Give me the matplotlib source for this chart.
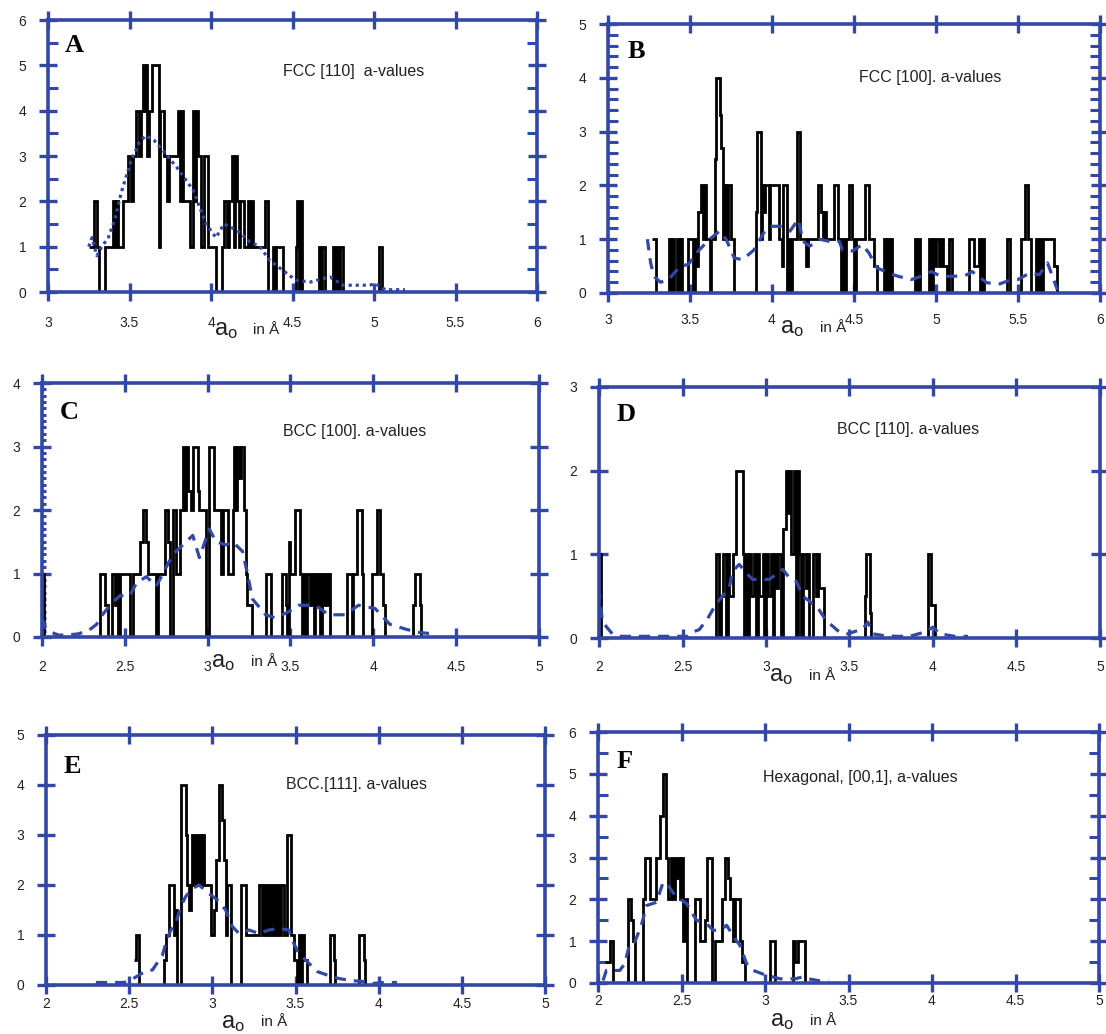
import matplotlib
matplotlib.use("Agg")
import matplotlib.pyplot as plt
from matplotlib.ticker import MultipleLocator
import numpy as np

plt.rcParams['font.family'] = ['Liberation Sans', 'DejaVu Sans']

# ---- data: step traces (segment start, count) + end of last segment ----
A_steps = [(3.25, 1), (3.28, 2), (3.30, 1), (3.31, 0), (3.35, 1), (3.40, 2), (3.41, 1), (3.42, 2),
           (3.43, 1), (3.46, 2), (3.49, 3), (3.51, 2), (3.52, 3), (3.54, 4), (3.56, 3), (3.57, 4),
           (3.58, 5), (3.59, 4), (3.60, 5), (3.61, 3), (3.62, 4), (3.64, 5), (3.68, 1), (3.69, 4),
           (3.71, 3), (3.73, 2), (3.74, 3), (3.80, 4), (3.81, 2), (3.82, 4), (3.83, 2), (3.87, 1),
           (3.89, 4), (3.90, 2), (3.91, 4), (3.92, 3), (3.94, 1), (3.96, 3), (3.98, 1), (4.03, 0),
           (4.07, 1), (4.08, 2), (4.10, 1), (4.11, 2), (4.13, 3), (4.14, 1), (4.15, 3), (4.16, 2),
           (4.17, 1), (4.18, 2), (4.20, 1), (4.23, 2), (4.24, 1), (4.25, 2), (4.26, 1), (4.33, 2),
           (4.35, 0), (4.38, 1), (4.39, 0), (4.40, 1), (4.44, 0), (4.52, 1), (4.53, 2), (4.54, 0),
           (4.55, 2), (4.56, 0), (4.66, 1), (4.67, 0), (4.68, 1), (4.70, 0), (4.75, 1), (4.76, 0),
           (4.77, 1), (4.78, 0), (4.79, 1), (4.81, 0), (5.03, 1), (5.05, 0)]
A_end = 5.10

B_steps = [(3.27, 1), (3.29, 0), (3.37, 1), (3.38, 0), (3.39, 1), (3.40, 0), (3.42, 1), (3.43, 0),
           (3.44, 1), (3.45, 0), (3.49, 1), (3.52, 0), (3.53, 1), (3.54, 0.5), (3.55, 1.5), (3.57, 2),
           (3.58, 1), (3.59, 2), (3.60, 1), (3.62, 0), (3.63, 1), (3.65, 2.5), (3.66, 4), (3.68, 3.3),
           (3.69, 2.7), (3.70, 1), (3.71, 2), (3.72, 1), (3.73, 2), (3.75, 1), (3.77, 0), (3.90, 1.5),
           (3.91, 3), (3.93, 1), (3.94, 2), (3.95, 1.5), (3.96, 2), (3.98, 1), (3.99, 2), (4.04, 1),
           (4.06, 0.5), (4.07, 2), (4.09, 0), (4.10, 1), (4.11, 0), (4.12, 1), (4.15, 3), (4.17, 1),
           (4.21, 0.5), (4.22, 1), (4.28, 2), (4.30, 1.5), (4.31, 1), (4.32, 1.5), (4.33, 1), (4.38, 2),
           (4.40, 1), (4.42, 0), (4.43, 1), (4.44, 0), (4.45, 1), (4.47, 2), (4.49, 1), (4.50, 0),
           (4.51, 1), (4.57, 2), (4.59, 1), (4.62, 0.5), (4.64, 0), (4.68, 1), (4.69, 0), (4.70, 1),
           (4.71, 0), (4.72, 1), (4.73, 0), (4.87, 1), (4.88, 0), (4.89, 1), (4.90, 0), (4.96, 1),
           (4.97, 0), (4.98, 1), (4.99, 0.5), (5.00, 1), (5.02, 0.5), (5.03, 1), (5.04, 0.5), (5.07, 0),
           (5.08, 1), (5.10, 0), (5.20, 1), (5.23, 0.5), (5.26, 1), (5.27, 0), (5.28, 1), (5.29, 0),
           (5.43, 1), (5.45, 0), (5.52, 1), (5.54, 2), (5.56, 1), (5.58, 0), (5.61, 1), (5.62, 0),
           (5.63, 1), (5.64, 0), (5.65, 1), (5.72, 0.5), (5.74, 0)]
B_end = 5.76

C_steps = [(2.00, 1), (2.01, 0), (2.35, 1), (2.38, 0.5), (2.40, 0), (2.42, 1), (2.44, 0.5), (2.45, 1),
           (2.46, 0), (2.47, 1), (2.53, 0), (2.55, 1), (2.59, 1.5), (2.61, 2), (2.63, 1.5), (2.64, 1),
           (2.69, 0), (2.70, 1), (2.74, 2), (2.76, 1.5), (2.77, 0), (2.79, 2), (2.81, 1), (2.83, 2),
           (2.85, 3), (2.86, 2), (2.87, 3), (2.88, 2.3), (2.90, 2), (2.91, 3), (2.94, 2.3), (2.95, 2),
           (2.99, 0), (3.01, 3), (3.04, 2), (3.08, 1), (3.09, 2), (3.12, 1), (3.15, 2), (3.16, 3),
           (3.17, 2), (3.18, 3), (3.19, 2.5), (3.20, 3), (3.22, 2), (3.23, 1), (3.24, 0.5), (3.27, 0),
           (3.35, 1), (3.38, 0), (3.45, 1), (3.47, 0.5), (3.48, 0), (3.49, 1.5), (3.50, 1), (3.53, 2),
           (3.56, 1), (3.57, 0), (3.58, 1), (3.59, 0), (3.60, 1), (3.62, 0.5), (3.63, 1), (3.64, 0),
           (3.65, 1), (3.66, 0.5), (3.67, 1), (3.68, 0), (3.69, 1), (3.70, 0.5), (3.71, 1), (3.72, 0.5),
           (3.73, 1), (3.74, 0), (3.84, 1), (3.87, 0), (3.88, 1), (3.90, 2), (3.93, 1), (3.94, 0),
           (3.99, 1), (4.02, 2), (4.04, 1), (4.06, 0.5), (4.07, 0), (4.24, 0.5), (4.25, 1), (4.28, 0.5),
           (4.29, 0)]
C_end = 4.32

D_steps = [(2.00, 1), (2.01, 0), (2.70, 1), (2.72, 0), (2.73, 0.5), (2.74, 1), (2.76, 0), (2.77, 1),
           (2.78, 0.5), (2.80, 1), (2.82, 2), (2.86, 1), (2.87, 0), (2.88, 1), (2.89, 0), (2.90, 1),
           (2.91, 0.5), (2.93, 1), (2.94, 0), (2.95, 1), (2.96, 0.5), (2.98, 1), (2.99, 0), (3.00, 1),
           (3.01, 0.5), (3.03, 1), (3.04, 0), (3.05, 1), (3.06, 0.6), (3.07, 1), (3.09, 0), (3.10, 1.3),
           (3.12, 2), (3.13, 1.5), (3.14, 2), (3.15, 1), (3.17, 2), (3.18, 0), (3.19, 2), (3.20, 1),
           (3.21, 0), (3.22, 1), (3.24, 0.6), (3.25, 1), (3.26, 0), (3.28, 1), (3.30, 0.5), (3.31, 1),
           (3.32, 0.6), (3.35, 0), (3.59, 0.5), (3.60, 1), (3.62, 0.3), (3.63, 0), (3.97, 1), (3.99, 0.4),
           (4.01, 0)]
D_end = 4.05

E_steps = [(2.53, 0.5), (2.54, 1), (2.56, 0), (2.71, 0.5), (2.72, 1), (2.74, 2), (2.77, 1), (2.78, 1.5),
           (2.79, 0), (2.81, 4), (2.84, 3), (2.85, 2), (2.86, 1.5), (2.87, 2), (2.88, 3), (2.89, 2),
           (2.90, 3), (2.91, 2), (2.92, 3), (2.93, 2), (2.94, 3), (2.95, 2), (2.99, 1), (3.01, 1.5),
           (3.02, 2.5), (3.04, 4), (3.06, 3.3), (3.07, 2.5), (3.08, 1), (3.09, 2), (3.11, 0), (3.17, 2),
           (3.20, 1), (3.28, 2), (3.30, 1), (3.31, 2), (3.32, 1), (3.33, 2), (3.34, 1), (3.35, 2),
           (3.36, 1), (3.37, 2), (3.38, 1), (3.39, 2), (3.40, 1), (3.41, 2), (3.43, 1), (3.45, 3),
           (3.47, 1), (3.49, 0.5), (3.51, 0), (3.52, 1), (3.53, 0), (3.54, 1), (3.55, 0.5), (3.57, 0),
           (3.71, 1), (3.73, 0.5), (3.74, 0), (3.88, 1), (3.91, 0.5), (3.92, 0)]
E_end = 3.95

F_steps = [(2.04, 0.5), (2.07, 1), (2.09, 0), (2.18, 2), (2.20, 1.5), (2.21, 1), (2.22, 0), (2.27, 2),
           (2.28, 3), (2.31, 2), (2.35, 3), (2.37, 4), (2.39, 5), (2.41, 3), (2.42, 2), (2.44, 3),
           (2.45, 2), (2.46, 3), (2.47, 2.5), (2.48, 3), (2.49, 2), (2.50, 3), (2.51, 1), (2.52, 2),
           (2.53, 0), (2.58, 2), (2.61, 1), (2.64, 1.5), (2.65, 3), (2.68, 0), (2.70, 1), (2.74, 2),
           (2.76, 3), (2.78, 2.5), (2.79, 2), (2.81, 1), (2.82, 2), (2.85, 1), (2.86, 0.5), (2.88, 0),
           (3.03, 1), (3.06, 0), (3.17, 1), (3.18, 0.5), (3.20, 1), (3.24, 0)]
F_end = 3.27

# ---- data: smoothed (dashed) curves ----
A_fit_x = [3.25, 3.27, 3.30, 3.33, 3.37, 3.41, 3.45, 3.51, 3.56, 3.60, 3.65, 3.71, 3.79, 3.89, 3.97,
           4.03, 4.08, 4.16, 4.24, 4.30, 4.36, 4.44, 4.52, 4.61, 4.67, 4.73, 4.81, 4.90, 4.97, 5.01,
           5.07, 5.13, 5.19]
A_fit_y = [1.0, 1.2, 0.8, 1.0, 1.2, 1.6, 2.2, 2.9, 3.3, 3.45, 3.35, 3.1, 2.75, 2.25, 1.5,
           1.2, 1.5, 1.36, 1.1, 1.0, 0.7, 0.48, 0.26, 0.22, 0.28, 0.33, 0.15, 0.15, 0.15, 0.18,
           0.05, 0.05, 0.05]

B_fit_x = [3.24, 3.26, 3.28, 3.32, 3.37, 3.44, 3.49, 3.55, 3.62, 3.68, 3.72, 3.77, 3.82, 3.89, 3.95,
           3.99, 4.05, 4.11, 4.16, 4.19, 4.23, 4.29, 4.35, 4.41, 4.43, 4.49, 4.55, 4.59, 4.64, 4.71,
           4.77, 4.85, 4.91, 4.97, 5.03, 5.11, 5.19, 5.22, 5.31, 5.39, 5.45, 5.50, 5.57, 5.63, 5.68,
           5.71, 5.74]
B_fit_y = [1.0, 0.56, 0.31, 0.2, 0.25, 0.5, 0.53, 0.78, 1.0, 1.15, 1.0, 0.65, 0.62, 0.8, 1.12,
           1.24, 1.24, 1.15, 1.37, 0.96, 0.87, 1.0, 0.96, 0.96, 0.8, 0.78, 0.9, 0.75, 0.47, 0.37,
           0.31, 0.25, 0.31, 0.4, 0.31, 0.31, 0.34, 0.4, 0.19, 0.17, 0.24, 0.25, 0.37, 0.34, 0.56,
           0.31, 0.06]

C_fit_x = [2.00, 2.02, 2.05, 2.10, 2.15, 2.22, 2.28, 2.33, 2.35, 2.41, 2.47, 2.53, 2.57, 2.63, 2.69,
           2.75, 2.79, 2.85, 2.91, 2.95, 3.01, 3.05, 3.11, 3.15, 3.21, 3.24, 3.27, 3.35, 3.41, 3.49,
           3.55, 3.65, 3.73, 3.83, 3.91, 4.01, 4.10, 4.20, 4.28, 4.36]
C_fit_y = [0.3, 0.15, 0.08, 0.03, 0.03, 0.05, 0.1, 0.2, 0.3, 0.5, 0.65, 0.65, 0.85, 0.95, 0.8,
           1.1, 1.3, 1.45, 1.6, 1.25, 1.7, 1.5, 1.45, 1.5, 1.35, 1.0, 0.6, 0.35, 0.3, 0.4,
           0.5, 0.5, 0.35, 0.35, 0.5, 0.45, 0.2, 0.12, 0.07, 0.05]

D_fit_x = [2.00, 2.02, 2.05, 2.08, 2.12, 2.20, 2.24, 2.53, 2.56, 2.60, 2.65, 2.69, 2.73, 2.78, 2.80,
           2.84, 2.88, 2.92, 2.98, 3.02, 3.06, 3.10, 3.14, 3.18, 3.22, 3.26, 3.32, 3.36, 3.44, 3.49,
           3.58, 3.61, 3.64, 3.70, 3.78, 3.86, 3.95, 4.00, 4.04, 4.13, 4.21]
D_fit_y = [0.6, 0.2, 0.12, 0.05, 0.02, 0.02, 0.02, 0.02, 0.07, 0.1, 0.23, 0.37, 0.48, 0.6, 0.8,
           0.88, 0.78, 0.7, 0.7, 0.7, 0.76, 0.82, 0.72, 0.68, 0.5, 0.44, 0.33, 0.21, 0.07, 0.05,
           0.11, 0.19, 0.05, 0.03, 0.02, 0.02, 0.07, 0.13, 0.05, 0.02, 0.02]

E_fit_x = [2.30, 2.37, 2.47, 2.52, 2.56, 2.60, 2.64, 2.70, 2.72, 2.75, 2.78, 2.81, 2.84, 2.88, 2.92,
           2.98, 3.03, 3.08, 3.12, 3.16, 3.22, 3.28, 3.34, 3.40, 3.46, 3.49, 3.52, 3.57, 3.63, 3.69,
           3.76, 3.83, 3.91, 3.96, 4.03, 4.11]
E_fit_y = [0.05, 0.05, 0.05, 0.12, 0.2, 0.28, 0.3, 0.6, 0.83, 1.1, 1.23, 1.57, 1.77, 1.93, 2.0,
           1.83, 1.7, 1.5, 1.17, 1.03, 1.1, 1.03, 1.1, 1.13, 1.1, 0.83, 0.63, 0.47, 0.27, 0.2,
           0.13, 0.09, 0.07, 0.03, 0.05, 0.05]

F_fit_x = [2.03, 2.05, 2.13, 2.16, 2.19, 2.22, 2.26, 2.29, 2.35, 2.39, 2.42, 2.46, 2.53, 2.59, 2.65,
           2.69, 2.73, 2.77, 2.82, 2.85, 2.89, 2.93, 3.01, 3.09, 3.18, 3.22, 3.26, 3.33, 3.38]
F_fit_y = [0.06, 0.3, 0.3, 0.46, 0.94, 0.98, 1.38, 1.85, 1.93, 2.41, 2.33, 2.1, 1.9, 1.5, 1.42,
           1.26, 1.26, 1.38, 1.06, 0.9, 0.46, 0.3, 0.18, 0.1, 0.1, 0.14, 0.1, 0.05, 0.05]

titles = ["FCC [110]  a-values", "FCC [100]. a-values", "BCC [100]. a-values",
          "BCC [110]. a-values", "BCC.[111]. a-values", "Hexagonal, [00,1], a-values"]
letters = ["A", "B", "C", "D", "E", "F"]

BLUE = '#3347a6'
W, H = 1106, 1034

fig = plt.figure(figsize=(W / 100, H / 100), dpi=100)


def add_axes(l, r, t, b):
    return fig.add_axes([l / W, 1 - b / H, (r - l) / W, (b - t) / H])


panels = [
    # steps, end, fit x, fit y, box px, xlim, ymax, minor (step, len, right?), title pos, letter pos, xlabel pos, xpad, dashes
    (A_steps, A_end, A_fit_x, A_fit_y, (48, 537, 20, 292), (3, 6), 6, (0.5, 7, True), (0.48, 0.81), (0.035, 0.95), (0.34, -0.14), 11, (1.0, 1.2)),
    (B_steps, B_end, B_fit_x, B_fit_y, (608, 1100, 24, 293), (3, 6), 5, (0.2, 7, True), (0.51, 0.80), (0.04, 0.94), (0.35, -0.13), 8, (3.5, 2.5)),
    (C_steps, C_end, C_fit_x, C_fit_y, (42, 539, 383, 637), (2, 5), 4, (0.1, 3, False), (0.485, 0.81), (0.036, 0.93), (0.34, -0.10), 10, (3.5, 2.5)),
    (D_steps, D_end, D_fit_x, D_fit_y, (599, 1100, 387, 638), (2, 5), 3, None, (0.475, 0.83), (0.036, 0.935), (0.34, -0.15), 9, (3.5, 2.5)),
    (E_steps, E_end, E_fit_x, E_fit_y, (46, 545, 735, 985), (2, 5), 5, None, (0.48, 0.80), (0.036, 0.92), (0.35, -0.15), 2, (3.5, 2.5)),
    (F_steps, F_end, F_fit_x, F_fit_y, (598, 1099, 732, 983), (2, 5), 6, (0.5, 7, True), (0.33, 0.82), (0.038, 0.93), (0.343, -0.15), 1.5, (3.5, 2.5)),
]

for i, (steps, end, fx, fy, box, xlim, ymax, minor, tpos, lpos, xlpos, xpad, dash) in enumerate(panels):
    ax = add_axes(*box)
    edges = [s[0] for s in steps] + [end]
    counts = [s[1] for s in steps]
    ax.stairs(counts, edges, color='black', linewidth=2.0, baseline=None, zorder=2)
    ax.plot(fx, fy, color=BLUE, linewidth=2.3, linestyle=(0, dash), zorder=3)

    ax.set_xlim(*xlim)
    ax.set_ylim(0, ymax)
    xt = np.arange(xlim[0], xlim[1] + 0.01, 0.5)
    ax.set_xticks(xt)
    ax.set_xticklabels([f"{v:g}" for v in xt])
    ax.set_yticks(range(ymax + 1))

    for s in ax.spines.values():
        s.set_color(BLUE)
        s.set_linewidth(2.6)
        s.set_zorder(4)

    ax.tick_params(which='major', direction='inout', length=13, width=2.4, color=BLUE,
                   top=True, right=True, labelsize=10, labelcolor='#222222')
    ax.tick_params(axis='x', which='major', pad=xpad)
    ax.tick_params(axis='y', which='major', pad=9)
    if minor is not None:
        step, mlen, mright = minor
        ax.yaxis.set_minor_locator(MultipleLocator(step))
        ax.tick_params(axis='y', which='minor', direction='in', length=mlen, width=2.2,
                       color=BLUE, left=True, right=mright)
    ax.tick_params(axis='x', which='minor', bottom=False, top=False)

    ax.text(tpos[0], tpos[1], titles[i], transform=ax.transAxes, fontsize=11.5,
            color='#222222', va='center', ha='left')
    ax.text(lpos[0], lpos[1], letters[i], transform=ax.transAxes, fontsize=19,
            fontweight='bold', family=['Liberation Serif', 'DejaVu Serif'], va='top', ha='left')
    ax.text(xlpos[0], xlpos[1], r'$\mathregular{a_o}$', transform=ax.transAxes, fontsize=17,
            va='center', ha='left', color='#222222')
    ax.text(xlpos[0] + 0.08, xlpos[1], 'in Å', transform=ax.transAxes, fontsize=11,
            va='center', ha='left', color='#222222')

fig.savefig('out.png', dpi=100, facecolor='white')
